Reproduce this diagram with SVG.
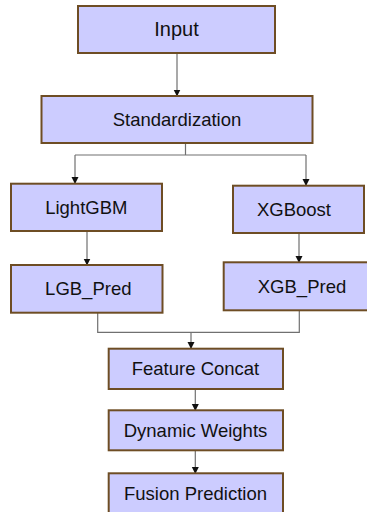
<svg xmlns="http://www.w3.org/2000/svg" width="367" height="512" viewBox="0 0 367 512">
<defs>
<marker id="ah" markerWidth="7" markerHeight="8" refX="6.5" refY="3.5" orient="auto" markerUnits="userSpaceOnUse" viewBox="0 0 7 7">
<path d="M0,0 L7,3.5 L0,7 Z" fill="#111"/>
</marker>
<style>
.box{fill:#ccccff;stroke:#6e4d24;stroke-width:2}
.lbl{font-family:"Liberation Sans",Arial,sans-serif;font-size:18.5px;fill:#111;text-anchor:middle}
.c{fill:none;stroke:#707070;stroke-width:1.2}
.a{marker-end:url(#ah)}
</style>
</defs>
<rect width="367" height="512" fill="#fff"/>
<g id="connectors">
<path class="c a" d="M177,53 V96"/>
<path class="c" d="M185.5,143 V155 M75,155 H306"/>
<path class="c a" d="M75,155 V183.5"/>
<path class="c a" d="M306,155 V185.5"/>
<path class="c a" d="M87,231 V265"/>
<path class="c a" d="M299,233 V262.5"/>
<path class="c" d="M97.7,312.7 V332.3 H299.3 V310.3"/>
<path class="c a" d="M191,332.3 V348.5"/>
<path class="c a" d="M195.3,389 V410.5"/>
<path class="c a" d="M195.3,450.3 V473.5"/>
</g>
<g id="input"><rect class="box" x="78" y="6" width="197" height="47"/><text class="lbl" x="176.5" y="36" style="font-size:20px">Input</text></g>
<g id="standardization"><rect class="box" x="41.5" y="96" width="271" height="47"/><text class="lbl" x="177" y="126">Standardization</text></g>
<g id="lightgbm"><rect class="box" x="11" y="183.7" width="151" height="47.3"/><text class="lbl" x="86.3" y="214">LightGBM</text></g>
<g id="xgboost"><rect class="box" x="233" y="185.7" width="131" height="47.3"/><text class="lbl" x="294" y="216">XGBoost</text></g>
<g id="lgb_pred"><rect class="box" x="11" y="265" width="151.5" height="47.7"/><text class="lbl" x="88.3" y="295">LGB_Pred</text></g>
<g id="xgb_pred"><rect class="box" x="223.7" y="262.3" width="160" height="48"/><text class="lbl" x="302" y="293">XGB_Pred</text></g>
<g id="feature_concat"><rect class="box" x="108.7" y="348.7" width="174.3" height="40.3"/><text class="lbl" x="195.5" y="375">Feature Concat</text></g>
<g id="dynamic_weights"><rect class="box" x="108.7" y="410.3" width="174.3" height="40"/><text class="lbl" x="195.5" y="436.7">Dynamic Weights</text></g>
<g id="fusion_prediction"><rect class="box" x="108.7" y="473.3" width="174.3" height="40"/><text class="lbl" x="195.5" y="499.5">Fusion Prediction</text></g>
</svg>
